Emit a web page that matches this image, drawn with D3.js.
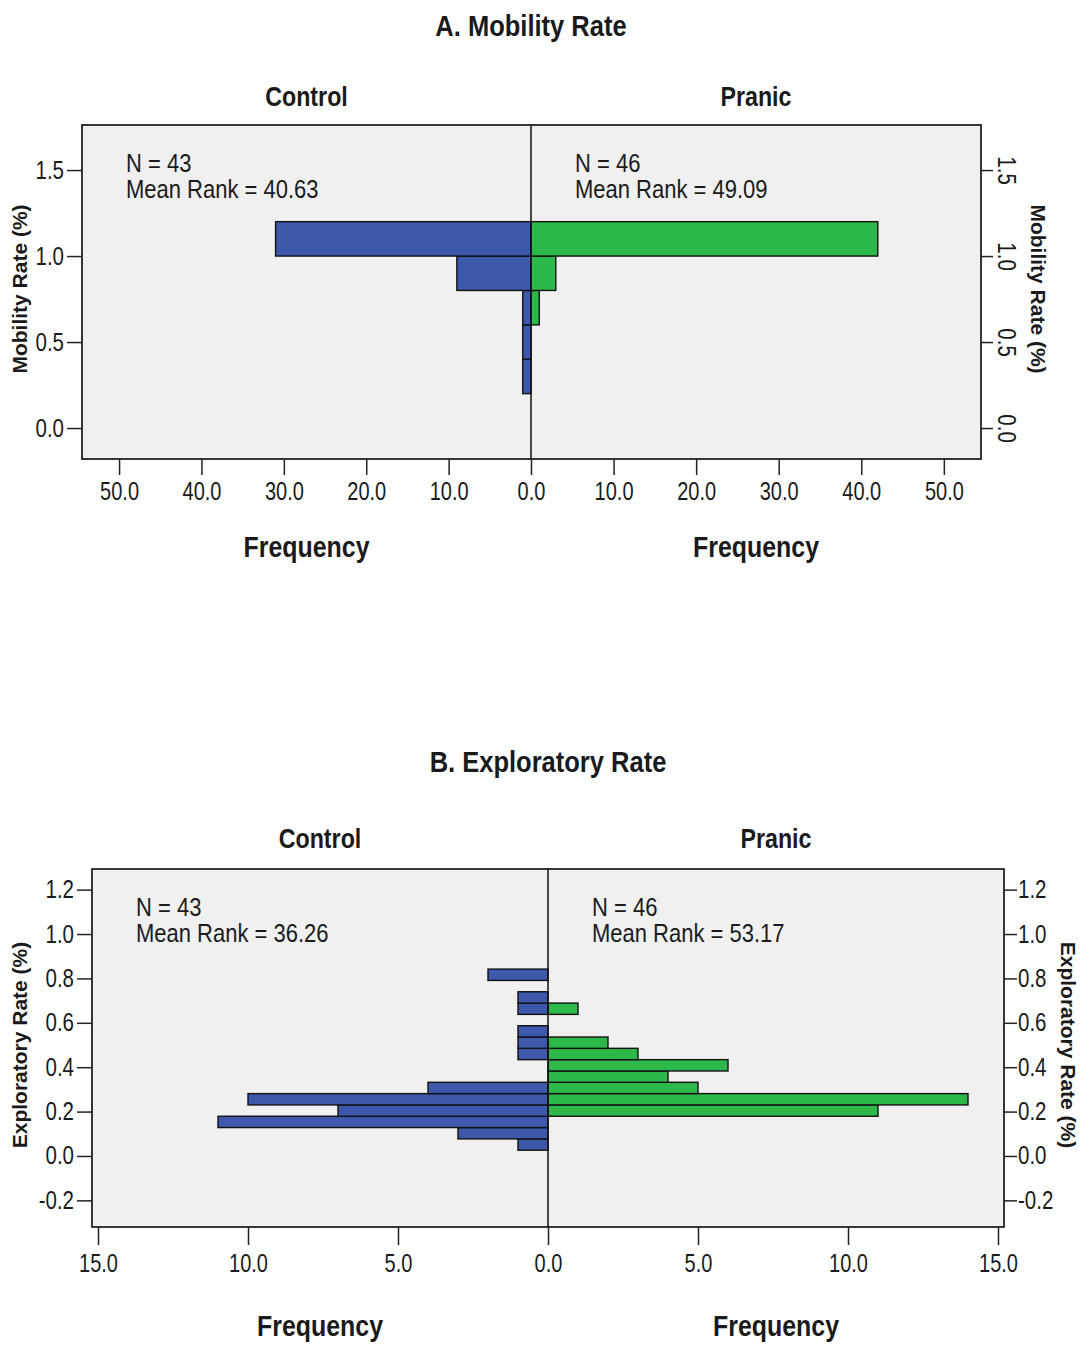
<!DOCTYPE html>
<html>
<head>
<meta charset="utf-8">
<script src="https://cdn.jsdelivr.net/npm/d3@7"></script>
<style>
  body { margin: 0; background: #fff; }
  svg text { fill: #1a1a1a; font-family: "Liberation Sans", Arial, sans-serif; }
  .axis path { display: none; }
  .axis line { stroke: #222; stroke-width: 1.5; }
</style>
</head>
<body>
<svg width="1084" height="1346"></svg>
<script>
'use strict';

// group names and the stats printed inside each half
var groups = ["Control", "Pranic"];

// A. Mobility rate: counts per bin, bins counted from the bottom
var mobBinStart = 0.2, mobBinWidth = 0.2;
var mobControl = [1, 1, 1, 9, 31];
var mobPranic = [0, 0, 1, 3, 42];
var mobN = [43, 46];
var mobMeanRank = ["40.63", "49.09"];
var mobFreqTicks = [0, 10, 20, 30, 40, 50];
var mobRateTicks = [0, 0.5, 1.0, 1.5];

// B. Exploratory rate
var expBinStart = 0.026, expBinWidth = 0.051;
var expControl = [1, 3, 11, 7, 10, 4, 0, 0, 1, 1, 1, 0, 1, 1, 0, 2];
var expPranic = [0, 0, 0, 11, 14, 5, 4, 6, 3, 2, 0, 0, 1, 0, 0, 0];
var expN = [43, 46];
var expMeanRank = ["36.26", "53.17"];
var expFreqTicks = [0, 5, 10, 15];
var expRateTicks = [-0.2, 0, 0.2, 0.4, 0.6, 0.8, 1.0, 1.2];

var svg = d3.select("svg");

// plain hyphen for negatives, like the SPSS output
var fmt = d3.formatLocale({decimal: ".", thousands: ",", grouping: [3], currency: ["", ""], minus: "-"}).format(".1f");

function bins(start, width, counts) {
	return counts.map(function(n, i) {
		return {y0: start + i * width, y1: start + (i + 1) * width, n: n};
	});
}

// narrow look: Liberation Sans squeezed horizontally (no Arial Narrow here)
function squeezed(g, x, y, size, sx, bold, txt) {
	return g.append("text")
		.attr("transform", "translate(" + x + "," + y + ") scale(" + sx + ",1)")
		.attr("text-anchor", "middle")
		.style("font-size", size + "px")
		.style("font-weight", bold ? "bold" : null)
		.text(txt);
}

function pyramid(p) {
	var g = svg.append("g");
	var cx = p.center;

	var xL = d3.scaleLinear().domain([0, p.xMax]).range([cx, p.left]),
		xR = d3.scaleLinear().domain([0, p.xMax]).range([cx, p.right]),
		y = d3.scaleLinear().domain(p.yDomain).range([p.bottom, p.top]);

	// titles
	squeezed(g, cx, p.titleY, 29, 0.88, true, p.title);
	[[p.left, cx], [cx, p.right]].forEach(function(r, i) {
		squeezed(g, (r[0] + r[1]) / 2, p.groupY, 27, 0.86, true, groups[i]);
		squeezed(g, (r[0] + r[1]) / 2, p.freqY, 29, 0.86, true, "Frequency");
	});

	// plot box
	g.append("rect")
		.attr("x", p.left).attr("y", p.top)
		.attr("width", p.right - p.left).attr("height", p.bottom - p.top)
		.attr("fill", "#f0f0f0")
		.attr("stroke", "#222").attr("stroke-width", 1.8);

	// stats text
	[[p.left, 0], [cx, 1]].forEach(function(r) {
		var t = g.append("text")
			.attr("transform", "translate(" + (r[0] + 44) + "," + (p.top + 47) + ") scale(0.88,1)")
			.style("font-size", "25px");
		t.append("tspan").attr("x", 0).text("N = " + p.n[r[1]]);
		t.append("tspan").attr("x", 0).attr("dy", 26).text("Mean Rank = " + p.rank[r[1]]);
	});

	// bars
	g.selectAll(".barL")
		.data(bins(p.binStart, p.binWidth, p.control).filter(function(d) { return d.n > 0; }))
		.enter().append("rect")
		.attr("class", "barL")
		.attr("x", function(d) { return xL(d.n); })
		.attr("y", function(d) { return y(d.y1); })
		.attr("width", function(d) { return cx - xL(d.n); })
		.attr("height", function(d) { return y(d.y0) - y(d.y1); })
		.attr("fill", "#3e58ac")
		.attr("stroke", "#111").attr("stroke-width", 1.4);

	g.selectAll(".barR")
		.data(bins(p.binStart, p.binWidth, p.pranic).filter(function(d) { return d.n > 0; }))
		.enter().append("rect")
		.attr("class", "barR")
		.attr("x", cx)
		.attr("y", function(d) { return y(d.y1); })
		.attr("width", function(d) { return xR(d.n) - cx; })
		.attr("height", function(d) { return y(d.y0) - y(d.y1); })
		.attr("fill", "#2db84a")
		.attr("stroke", "#111").attr("stroke-width", 1.4);

	// centre line
	g.append("line")
		.attr("x1", cx).attr("x2", cx)
		.attr("y1", p.top).attr("y2", p.bottom)
		.attr("stroke", "#111").attr("stroke-width", 1.5);

	// frequency axes
	g.append("g").attr("class", "axis")
		.attr("transform", "translate(0," + p.bottom + ")")
		.call(d3.axisBottom(xL).tickValues(p.freqTicks).tickFormat(fmt).tickSize(p.xTick).tickPadding(p.xPad));
	g.append("g").attr("class", "axis")
		.attr("transform", "translate(0," + p.bottom + ")")
		.call(d3.axisBottom(xR).tickValues(p.freqTicks.filter(function(v) { return v > 0; })).tickFormat(fmt).tickSize(p.xTick).tickPadding(p.xPad));
	g.selectAll(".axis text")
		.style("font-size", "25px").attr("fill", "#222")
		.attr("transform", "scale(0.8,1)");

	// rate axis, left
	g.append("g").attr("class", "axis")
		.attr("transform", "translate(" + p.left + ",0)")
		.call(d3.axisLeft(y).tickValues(p.rateTicks).tickFormat(fmt).tickSize(15).tickPadding(3))
		.selectAll("text")
		.style("font-size", "25px").attr("fill", "#222")
		.attr("x", null)
		.attr("transform", "translate(-18,0) scale(0.82,1)");

	// rate axis, right
	var ar = g.append("g").attr("class", "axis")
		.attr("transform", "translate(" + p.right + ",0)")
		.call(d3.axisRight(y).tickValues(p.rateTicks).tickFormat(fmt).tickSize(p.rTick).tickPadding(1));
	ar.selectAll("text").style("font-size", "25px").attr("fill", "#222").attr("x", null);
	if (p.rotateRight) {
		ar.selectAll("text")
			.attr("dy", "0.35em")
			.attr("text-anchor", "middle")
			.attr("transform", "translate(" + p.rLabelX + ",0) rotate(90) scale(0.82,1)");
	} else {
		ar.selectAll("text")
			.attr("transform", "translate(" + (p.rTick + 1) + ",0) scale(0.82,1)");
	}

	// rate axis titles
	var midY = (p.top + p.bottom) / 2;
	g.append("text")
		.attr("transform", "translate(20," + (midY - 3) + ") rotate(-90)")
		.attr("dy", "0.35em").attr("text-anchor", "middle")
		.style("font-size", "21px").style("font-weight", "bold")
		.text(p.rateTitle);
	g.append("text")
		.attr("transform", "translate(" + p.rTitleX + "," + (midY - 3) + ") rotate(90)")
		.attr("dy", "0.35em").attr("text-anchor", "middle")
		.style("font-size", "21px").style("font-weight", "bold")
		.text(p.rateTitle);
}

pyramid({
	title: "A. Mobility Rate", titleY: 36, groupY: 106, freqY: 557,
	left: 82, right: 981, center: 531, top: 125, bottom: 459,
	xMax: 54.5, yDomain: [-0.18, 1.762],
	control: mobControl, pranic: mobPranic, binStart: mobBinStart, binWidth: mobBinWidth,
	n: mobN, rank: mobMeanRank,
	freqTicks: mobFreqTicks, rateTicks: mobRateTicks,
	xTick: 16, xPad: 7, rTick: 12, rotateRight: true, rLabelX: 26,
	rateTitle: "Mobility Rate (%)", rTitleX: 1038
});

pyramid({
	title: "B. Exploratory Rate", titleY: 772, groupY: 848, freqY: 1336,
	left: 92, right: 1004, center: 548, top: 869, bottom: 1227,
	xMax: 15.2, yDomain: [-0.32, 1.293],
	control: expControl, pranic: expPranic, binStart: expBinStart, binWidth: expBinWidth,
	n: expN, rank: expMeanRank,
	freqTicks: expFreqTicks, rateTicks: expRateTicks,
	xTick: 18, xPad: 9, rTick: 13, rotateRight: false,
	rateTitle: "Exploratory Rate (%)", rTitleX: 1068
});
</script>
</body>
</html>
